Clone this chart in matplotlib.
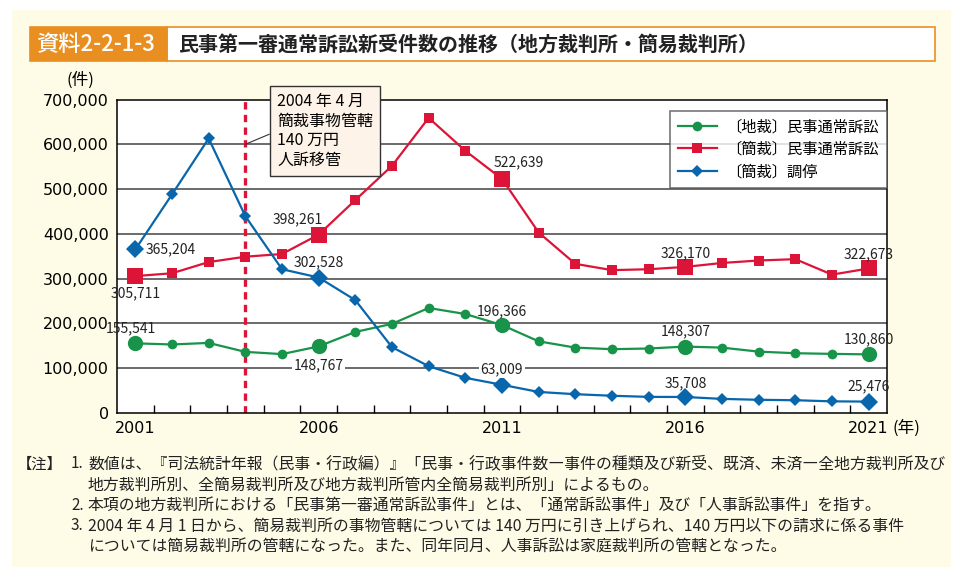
import matplotlib
matplotlib.use("Agg")
import matplotlib.pyplot as plt
from matplotlib.patches import Rectangle

plt.rcParams['font.family'] = ['Noto Sans CJK JP', 'DejaVu Sans']

# data
years = list(range(2001, 2022))
chisai = [155541, 153000, 156500, 136500, 131500, 148767, 181000, 199000, 234500, 221000,
          196366, 160000, 146000, 142500, 144000, 148307, 146000, 137000, 133500, 132000, 130860]
kansai = [305711, 312000, 337000, 349000, 355000, 398261, 475500, 552000, 659000, 585500,
          522639, 403000, 333000, 319000, 321000, 326170, 335000, 340500, 343500, 309000, 322673]
chotei = [365204, 488000, 613000, 439500, 321000, 302528, 252000, 147000, 104500, 78500,
          63009, 47000, 42000, 38500, 36000, 35708, 31500, 29500, 28500, 26000, 25476]

series_labels = ['〔地裁〕民事通常訴訟', '〔簡裁〕民事通常訴訟', '〔簡裁〕調停']
label_years = [2001, 2006, 2011, 2016, 2021]
year_ticks = [2001, 2006, 2011, 2016, 2021]
y_ticks = [0, 100000, 200000, 300000, 400000, 500000, 600000, 700000]

title_tag = '資料2-2-1-3'
title_text = '民事第一審通常訴訟新受件数の推移（地方裁判所・簡易裁判所）'
note_box = '2004 年 4 月\n簡裁事物管轄\n140 万円\n人訴移管'
notes = [
    ('【注】', '1.', '数値は、『司法統計年報（民事・行政編）』「民事・行政事件数―事件の種類及び新受、既済、未済―全地方裁判所及び'),
    ('', '', '地方裁判所別、全簡易裁判所及び地方裁判所管内全簡易裁判所別」によるもの。'),
    ('', '2.', '本項の地方裁判所における「民事第一審通常訴訟事件」とは、「通常訴訟事件」及び「人事訴訟事件」を指す。'),
    ('', '3.', '2004 年 4 月 1 日から、簡易裁判所の事物管轄については 140 万円に引き上げられ、140 万円以下の請求に係る事件'),
    ('', '', 'については簡易裁判所の管轄になった。また、同年同月、人事訴訟は家庭裁判所の管轄となった。'),
]

GREEN = '#17944a'
RED = '#dc1438'
BLUE = '#0866ac'
ORANGE = '#e98f22'
CREAM = '#fefbe6'
NUM_FONT = ['DejaVu Sans']

W, H = 962, 582
fig = plt.figure(figsize=(W / 100, H / 100), dpi=100)
fig.patch.set_facecolor('white')


def fx(px):
    return px / W


def fy(py):
    return 1 - py / H


# cream panel and title bar
fig.add_artist(Rectangle((fx(12), fy(567)), fx(951) - fx(12), fy(10) - fy(567),
                         transform=fig.transFigure, facecolor=CREAM, edgecolor='none', zorder=0))
fig.add_artist(Rectangle((fx(167), fy(61)), fx(935) - fx(167), fy(27) - fy(61),
                         transform=fig.transFigure, facecolor='white', edgecolor=ORANGE, lw=1.2))
fig.add_artist(Rectangle((fx(30), fy(61)), fx(167) - fx(30), fy(27) - fy(61),
                         transform=fig.transFigure, facecolor=ORANGE, edgecolor=ORANGE, lw=1.2))
fig.text(fx(36), fy(44), title_tag, color='white', fontsize=16, fontweight='medium', va='center', ha='left')
fig.text(fx(178), fy(44), title_text, color='#222222', fontsize=14.4, fontweight='bold', va='center', ha='left')

ax = fig.add_axes([fx(117), fy(413), fx(887) - fx(117), fy(99.5) - fy(413)])
ax.set_facecolor('white')

for yv in y_ticks[1:-1]:
    ax.axhline(yv, color='#6a6a6a', lw=1.4, zorder=1)

ax.axvline(2004, color=RED, lw=2.4, ls=(0, (2.2, 1.6)), zorder=2)

styles = [
    (chisai, GREEN, 'o', 7, 11),
    (kansai, RED, 's', 7.5, 11),
    (chotei, BLUE, 'D', 6, 9),
]
for (vals, col, mk, ms, ms_big), lab in zip(styles, series_labels):
    ax.plot(years, vals, color=col, lw=1.6, marker=mk, ms=ms, mew=0, label=lab, zorder=3)
    big_x = [y for y in years if y in label_years]
    big_y = [v for y, v in zip(years, vals) if y in label_years]
    ax.plot(big_x, big_y, ls='none', marker=mk, ms=ms_big, mew=0, color=col, zorder=4)

ax.set_xlim(2000.5, 2021.5)
ax.set_ylim(0, 700000)
ax.set_yticks(y_ticks)
ax.set_yticklabels([f'{v:,}' for v in y_ticks], fontsize=11.5, family=NUM_FONT)
ax.set_xticks(year_ticks)
ax.set_xticklabels([str(y) for y in year_ticks], fontsize=11.5, family=NUM_FONT)
ax.set_xticks([y + 0.5 for y in years[:-1]], minor=True)
ax.tick_params(axis='x', which='major', length=0, pad=6)
ax.tick_params(axis='x', which='minor', direction='in', length=6, width=1)
ax.tick_params(axis='y', length=0, pad=6)
for sp in ax.spines.values():
    sp.set_color('black')
    sp.set_linewidth(1.1)

fig.text(fx(893), fy(428), '(年)', fontsize=12, va='center', ha='left')
fig.text(fx(80), fy(80), '(件)', fontsize=12, va='center', ha='center')

# data labels: (series values, year, dx px, dy px, ha, white background)
label_spec = [
    (chotei, 2001, 10, 0, 'left', False),
    (kansai, 2001, 0, -17, 'center', False),
    (chisai, 2001, -4, 15, 'center', False),
    (kansai, 2006, 4, 15, 'right', False),
    (chotei, 2006, 0, 15, 'center', False),
    (chisai, 2006, 0, -19, 'center', True),
    (kansai, 2011, -8, 17, 'left', False),
    (chisai, 2011, 0, 14, 'center', False),
    (chotei, 2011, 0, 15, 'center', True),
    (kansai, 2016, 0, 14, 'center', False),
    (chisai, 2016, 0, 15, 'center', False),
    (chotei, 2016, 0, 14, 'center', False),
    (kansai, 2021, 0, 14, 'center', False),
    (chisai, 2021, 0, 15, 'center', False),
    (chotei, 2021, 0, 15, 'center', False),
]
for vals, yr, dx, dy, ha, bg in label_spec:
    v = vals[years.index(yr)]
    kw = {}
    if bg:
        kw['bbox'] = dict(facecolor='white', edgecolor='none', pad=1)
    ax.annotate(f'{v:,}', xy=(yr, v), xytext=(dx, dy), textcoords='offset pixels',
                ha=ha, va='center', fontsize=10, color='#222222', zorder=6, **kw)

# 2004 note box
ax.annotate(note_box, xy=(2004, 600000), xytext=(277, H - 131), textcoords='figure pixels',
            ha='left', va='center', fontsize=11.5, linespacing=1.2, zorder=7, annotation_clip=False,
            bbox=dict(boxstyle='square,pad=0.45', facecolor='#fdf3e8', edgecolor='#333333', lw=1),
            arrowprops=dict(arrowstyle='-', color='#333333', lw=0.8, relpos=(0, 0.5),
                            shrinkA=0, shrinkB=0))

leg = ax.legend(loc='upper left', bbox_to_anchor=((670 - 117) / 770, (413 - 110.7) / 313.5),
                borderaxespad=0, fontsize=11, frameon=True, fancybox=False, shadow=False,
                handlelength=2.6, handletextpad=0.6, labelspacing=0.35, borderpad=0.5)
leg.get_frame().set_edgecolor('#555555')
leg.get_frame().set_linewidth(1.2)
leg.set_zorder(8)

# notes
note_y = [464, 485, 505, 526, 546]
for (tag, num, txt), py in zip(notes, note_y):
    if tag:
        fig.text(fx(17), fy(py), tag, fontsize=11, va='center', ha='left', color='#222222')
    if num:
        fig.text(fx(71), fy(py), num, fontsize=11, va='center', ha='left', color='#222222')
    fig.text(fx(88), fy(py), txt, fontsize=11.4, va='center', ha='left', color='#222222')

fig.savefig('out.png', dpi=100, facecolor=fig.get_facecolor())
